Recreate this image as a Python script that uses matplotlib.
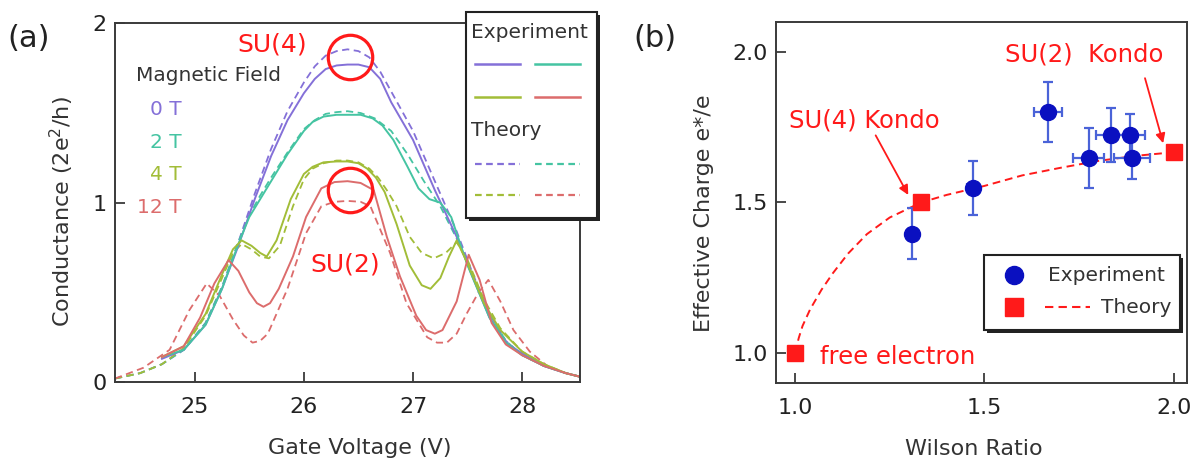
import matplotlib.pyplot as plt
import matplotlib.patheffects as pe

plt.rcParams['font.family'] = 'DejaVu Sans'

# ---- panel (a): conductance vs gate voltage ----
v_exp_0t = [24.70, 24.90, 25.10, 25.25, 25.40, 25.55, 25.70, 25.85, 25.93, 26.00, 26.10, 26.20, 26.30, 26.40,
            26.50, 26.60, 26.70, 26.80, 27.00, 27.20, 27.40, 27.55, 27.70, 27.85, 28.00, 28.20, 28.40, 28.53]
g_exp_0t = [0.13, 0.18, 0.32, 0.52, 0.76, 1.02, 1.26, 1.46, 1.54, 1.61, 1.69, 1.745, 1.765, 1.77,
            1.77, 1.755, 1.69, 1.56, 1.35, 1.07, 0.81, 0.58, 0.36, 0.22, 0.16, 0.09, 0.05, 0.03]
v_th_0t = [24.27, 24.50, 24.70, 24.90, 25.10, 25.25, 25.40, 25.55, 25.70, 25.85, 26.00, 26.10, 26.20, 26.30,
           26.40, 26.50, 26.60, 26.70, 26.80, 27.00, 27.20, 27.40, 27.55, 27.70, 27.85, 28.00, 28.20,
           28.40, 28.53]
g_th_0t = [0.02, 0.05, 0.10, 0.18, 0.33, 0.53, 0.78, 1.05, 1.30, 1.51, 1.67, 1.76, 1.82, 1.845,
           1.855, 1.845, 1.81, 1.73, 1.62, 1.40, 1.12, 0.84, 0.60, 0.38, 0.23, 0.15, 0.09,
           0.05, 0.03]

v_exp_2t = [24.70, 24.90, 25.10, 25.25, 25.40, 25.50, 25.60, 25.70, 25.85, 26.00, 26.08, 26.18, 26.30, 26.40,
            26.52, 26.63, 26.72, 26.82, 26.95, 27.05, 27.15, 27.25, 27.35, 27.50, 27.70, 27.85, 28.00,
            28.20, 28.40, 28.53]
g_exp_2t = [0.14, 0.18, 0.32, 0.52, 0.77, 0.92, 1.02, 1.12, 1.27, 1.40, 1.45, 1.48, 1.49, 1.49,
            1.49, 1.47, 1.43, 1.35, 1.20, 1.08, 1.02, 1.00, 0.92, 0.65, 0.36, 0.22, 0.15,
            0.09, 0.05, 0.03]
v_th_2t = [24.27, 24.50, 24.70, 24.90, 25.10, 25.25, 25.40, 25.50, 25.60, 25.70, 25.85, 26.00, 26.10, 26.20,
           26.30, 26.40, 26.52, 26.65, 26.80, 26.95, 27.10, 27.25, 27.40, 27.55, 27.70, 27.85, 28.00,
           28.20, 28.40, 28.53]
g_th_2t = [0.02, 0.05, 0.10, 0.18, 0.33, 0.53, 0.78, 0.93, 1.04, 1.14, 1.28, 1.41, 1.46, 1.495,
           1.505, 1.51, 1.50, 1.47, 1.40, 1.27, 1.12, 0.98, 0.80, 0.59, 0.38, 0.23, 0.15,
           0.09, 0.05, 0.03]

v_exp_4t = [24.70, 24.90, 25.10, 25.25, 25.35, 25.43, 25.52, 25.60, 25.66, 25.75, 25.88, 26.00, 26.08, 26.18,
            26.30, 26.40, 26.50, 26.58, 26.66, 26.74, 26.85, 26.97, 27.08, 27.16, 27.25, 27.33, 27.40,
            27.50, 27.65, 27.80, 28.00, 28.20, 28.40, 28.53]
g_exp_4t = [0.14, 0.20, 0.38, 0.60, 0.74, 0.79, 0.76, 0.72, 0.70, 0.79, 1.02, 1.16, 1.20, 1.225,
            1.23, 1.23, 1.22, 1.19, 1.14, 1.06, 0.88, 0.65, 0.54, 0.52, 0.58, 0.70, 0.79,
            0.66, 0.44, 0.29, 0.17, 0.10, 0.05, 0.03]
v_th_4t = [24.27, 24.50, 24.70, 24.90, 25.10, 25.25, 25.35, 25.43, 25.52, 25.60, 25.68, 25.78, 25.90, 26.00,
           26.08, 26.18, 26.30, 26.40, 26.50, 26.60, 26.68, 26.76, 26.85, 26.97, 27.08, 27.19, 27.30,
           27.40, 27.50, 27.65, 27.80, 28.00, 28.20, 28.40, 28.53]
g_th_4t = [0.02, 0.05, 0.10, 0.19, 0.37, 0.58, 0.72, 0.77, 0.74, 0.70, 0.69, 0.76, 0.98, 1.13,
           1.19, 1.22, 1.235, 1.235, 1.225, 1.19, 1.14, 1.07, 0.98, 0.81, 0.72, 0.69, 0.72,
           0.78, 0.68, 0.46, 0.30, 0.17, 0.10, 0.05, 0.03]

v_exp_12t = [24.70, 24.90, 25.05, 25.18, 25.31, 25.40, 25.50, 25.57, 25.63, 25.69, 25.77, 25.90, 26.02, 26.16,
             26.28, 26.40, 26.52, 26.64, 26.76, 26.88, 27.03, 27.12, 27.20, 27.27, 27.40, 27.51, 27.61,
             27.72, 27.85, 28.00, 28.20, 28.40, 28.53]
g_exp_12t = [0.14, 0.20, 0.36, 0.55, 0.68, 0.62, 0.50, 0.44, 0.42, 0.44, 0.52, 0.70, 0.92, 1.08,
             1.115, 1.12, 1.11, 1.07, 0.81, 0.59, 0.37, 0.29, 0.27, 0.29, 0.45, 0.71, 0.57,
             0.33, 0.21, 0.15, 0.09, 0.05, 0.03]
v_th_12t = [24.27, 24.53, 24.77, 24.95, 25.11, 25.23, 25.35, 25.45, 25.53, 25.60, 25.67, 25.85, 26.02, 26.16,
            26.28, 26.40, 26.52, 26.61, 26.79, 26.94, 27.13, 27.22, 27.31, 27.40, 27.49, 27.60, 27.69,
            27.80, 27.92, 28.07, 28.23, 28.40, 28.53]
g_th_12t = [0.02, 0.08, 0.18, 0.40, 0.55, 0.48, 0.35, 0.26, 0.22, 0.23, 0.27, 0.52, 0.83, 0.98,
            1.005, 1.01, 1.005, 0.98, 0.72, 0.44, 0.25, 0.22, 0.22, 0.27, 0.38, 0.50, 0.57,
            0.45, 0.29, 0.17, 0.09, 0.05, 0.03]

field_labels = ['0 T', '2 T', '4 T', '12 T']
field_colors = ['#8470d8', '#45c4a2', '#a2bd38', '#dc6c6c']
field_label_g = [1.49, 1.305, 1.128, 0.942]

# circled peaks (SU(4) at 0 T, SU(2) at 12 T)
circle_v = [26.42, 26.42]
circle_g = [1.81, 1.07]

# ---- panel (b): effective charge vs Wilson ratio ----
wr_exp = [1.31, 1.469, 1.667, 1.775, 1.834, 1.884, 1.889]
ec_exp = [1.396, 1.549, 1.80, 1.649, 1.723, 1.723, 1.649]
ec_err = [0.085, 0.09, 0.10, 0.10, 0.09, 0.07, 0.072]
wr_err = [0.0, 0.015, 0.037, 0.04, 0.04, 0.04, 0.048]

wr_th_pts = [1.0, 4 / 3, 2.0]
ec_th_pts = [1.0, 1.5, 1.667]
wr_th_curve = [1.0, 1.01, 1.02, 1.04, 1.07, 1.10, 1.14, 1.19, 1.25, 1.333, 1.40, 1.50, 1.60, 1.70, 1.80, 1.90, 2.0]
ec_th_curve = [1.0, 1.05, 1.09, 1.145, 1.21, 1.265, 1.33, 1.395, 1.45, 1.50, 1.525, 1.555, 1.59, 1.615, 1.638, 1.655, 1.667]

fs_tick = 16
fs_lab = 16
spine_c = '#3a3a3a'
red = '#ff1a1a'

fig = plt.figure(figsize=(11.93, 4.66), dpi=100)


def style_axes(ax):
    for s in ax.spines.values():
        s.set_color(spine_c)
        s.set_linewidth(1.4)
    ax.tick_params(direction='in', length=7, width=1.3, color=spine_c,
                   labelsize=fs_tick, labelcolor='#222222')
    ax.tick_params(axis='x', pad=11)
    ax.tick_params(axis='y', pad=6)


# ---------------- panel (a) ----------------
ax1 = fig.add_axes([0.0964, 0.180, 0.3898, 0.770])
exp_sets = [(v_exp_0t, g_exp_0t), (v_exp_2t, g_exp_2t), (v_exp_4t, g_exp_4t), (v_exp_12t, g_exp_12t)]
th_sets = [(v_th_0t, g_th_0t), (v_th_2t, g_th_2t), (v_th_4t, g_th_4t), (v_th_12t, g_th_12t)]
for (v, g), c in zip(th_sets, field_colors):
    ax1.plot(v, g, color=c, lw=1.3, dashes=(4, 2.5))
for (v, g), c in zip(exp_sets, field_colors):
    ax1.plot(v, g, color=c, lw=1.4)

ax1.plot(circle_v, circle_g, 'o', ms=32, mfc='none', mec=red, mew=2.3, zorder=5)
ax1.text(25.71, 1.845, 'SU(4)', color=red, fontsize=18, ha='center', va='baseline')
ax1.text(26.38, 0.616, 'SU(2)', color=red, fontsize=18, ha='center', va='baseline')

ax1.text(24.46, 1.678, 'Magnetic Field', color='#333333', fontsize=14.5, ha='left', va='baseline')
for lab, c, gy in zip(field_labels, field_colors, field_label_g):
    ax1.text(24.88, gy, lab, color=c, fontsize=14.5, ha='right', va='baseline')

ax1.set_xlim(24.27, 28.53)
ax1.set_ylim(0, 2)
ax1.set_xticks([25, 26, 27, 28])
ax1.set_yticks([0, 1, 2])
ax1.set_xlabel('Gate Voltage (V)', fontsize=fs_lab, color='#333333')
ax1.set_ylabel('Conductance (2e$^2$/h)', fontsize=fs_lab, color='#333333')
ax1.xaxis.set_label_coords(0.527, -0.155)
ax1.yaxis.set_label_coords(-0.083, 0.474)
style_axes(ax1)

# legend box of panel (a), drawn by hand (two columns, grouped by Experiment/Theory)
lg = fig.add_axes([0.3906, 0.532, 0.1098, 0.442], zorder=10)
lg.set_xlim(0, 131)
lg.set_ylim(206, 0)
lg.set_xticks([])
lg.set_yticks([])
for s in lg.spines.values():
    s.set_visible(False)
lg.patch.set_facecolor('white')
lg.patch.set_edgecolor('#222222')
lg.patch.set_linewidth(1.5)
lg.patch.set_path_effects([pe.SimplePatchShadow(offset=(2.2, -2.2), shadow_rgbFace='#222222', alpha=1.0),
                           pe.Normal()])
lg.text(5, 20, 'Experiment', fontsize=14.5, color='#333333', va='center', ha='left')
lg.text(5, 118, 'Theory', fontsize=14.5, color='#333333', va='center', ha='left')
key_x = [(9, 54), (69, 114), (9, 54), (69, 114)]
key_y_exp = [51.6, 51.6, 85, 85]
key_y_th = [151.6, 151.6, 183.3, 183.3]
for (x0, x1), ye, yt, c in zip(key_x, key_y_exp, key_y_th, field_colors):
    lg.plot([x0, x1], [ye, ye], color=c, lw=1.8)
    lg.plot([x0, x1], [yt, yt], color=c, lw=1.6, dashes=(3, 2))

fig.text(0.006, 0.918, '(a)', fontsize=22, color='#222222', ha='left', va='center')

# ---------------- panel (b) ----------------
ax2 = fig.add_axes([0.6505, 0.178, 0.3445, 0.775])
ax2.plot(wr_th_curve, ec_th_curve, color=red, lw=1.4, dashes=(4, 2.5), zorder=2)
ax2.errorbar(wr_exp, ec_exp, yerr=ec_err, xerr=wr_err, fmt='o', color='#0a10c0', ms=11.5,
             ecolor='#4a63d8', elinewidth=1.6, capsize=3.8, capthick=1.6, zorder=3)
ax2.plot(wr_th_pts, ec_th_pts, 's', color=red, ms=11.5, zorder=4)

ax2.text(0.984, 1.748, 'SU(4) Kondo', color=red, fontsize=17.5, ha='left', va='baseline')
ax2.text(1.555, 1.968, 'SU(2)  Kondo', color=red, fontsize=17.5, ha='left', va='baseline')
ax2.text(1.067, 0.964, 'free electron', color=red, fontsize=17.5, ha='left', va='baseline')
ax2.annotate('', xy=(1.299, 1.525), xytext=(1.213, 1.723),
             arrowprops=dict(arrowstyle='-|>', color=red, lw=1.3, mutation_scale=14, shrinkA=0, shrinkB=0))
ax2.annotate('', xy=(1.972, 1.697), xytext=(1.924, 1.913),
             arrowprops=dict(arrowstyle='-|>', color=red, lw=1.3, mutation_scale=14, shrinkA=0, shrinkB=0))

ax2.set_xlim(0.95, 2.035)
ax2.set_ylim(0.9, 2.1)
ax2.set_xticks([1.0, 1.5, 2.0])
ax2.set_yticks([1.0, 1.5, 2.0])
ax2.set_xticklabels(['1.0', '1.5', '2.0'])
ax2.set_yticklabels(['1.0', '1.5', '2.0'])
ax2.set_xlabel('Wilson Ratio', fontsize=fs_lab, color='#333333')
ax2.set_ylabel('Effective Charge e*/e', fontsize=fs_lab, color='#333333')
ax2.xaxis.set_label_coords(0.482, -0.155)
ax2.yaxis.set_label_coords(-0.151, 0.471)
style_axes(ax2)

# legend box of panel (b)
lb = fig.add_axes([0.8248, 0.2918, 0.1643, 0.1609], zorder=10)
lb.set_xlim(0, 196)
lb.set_ylim(75, 0)
lb.set_xticks([])
lb.set_yticks([])
for s in lb.spines.values():
    s.set_visible(False)
lb.patch.set_facecolor('white')
lb.patch.set_edgecolor('#222222')
lb.patch.set_linewidth(1.5)
lb.patch.set_path_effects([pe.SimplePatchShadow(offset=(2.2, -2.2), shadow_rgbFace='#222222', alpha=1.0),
                           pe.Normal()])
lb.plot([30], [20], 'o', color='#0a10c0', ms=13)
lb.plot([30], [52], 's', color=red, ms=12.5)
lb.plot([61, 106], [52, 52], color=red, lw=1.5, dashes=(4, 2.5))
lb.text(64, 20, 'Experiment', fontsize=14.5, color='#333333', ha='left', va='center')
lb.text(117, 52, 'Theory', fontsize=14.5, color='#333333', ha='left', va='center')

fig.text(0.531, 0.918, '(b)', fontsize=22, color='#222222', ha='left', va='center')

fig.savefig('out.png', dpi=100)
